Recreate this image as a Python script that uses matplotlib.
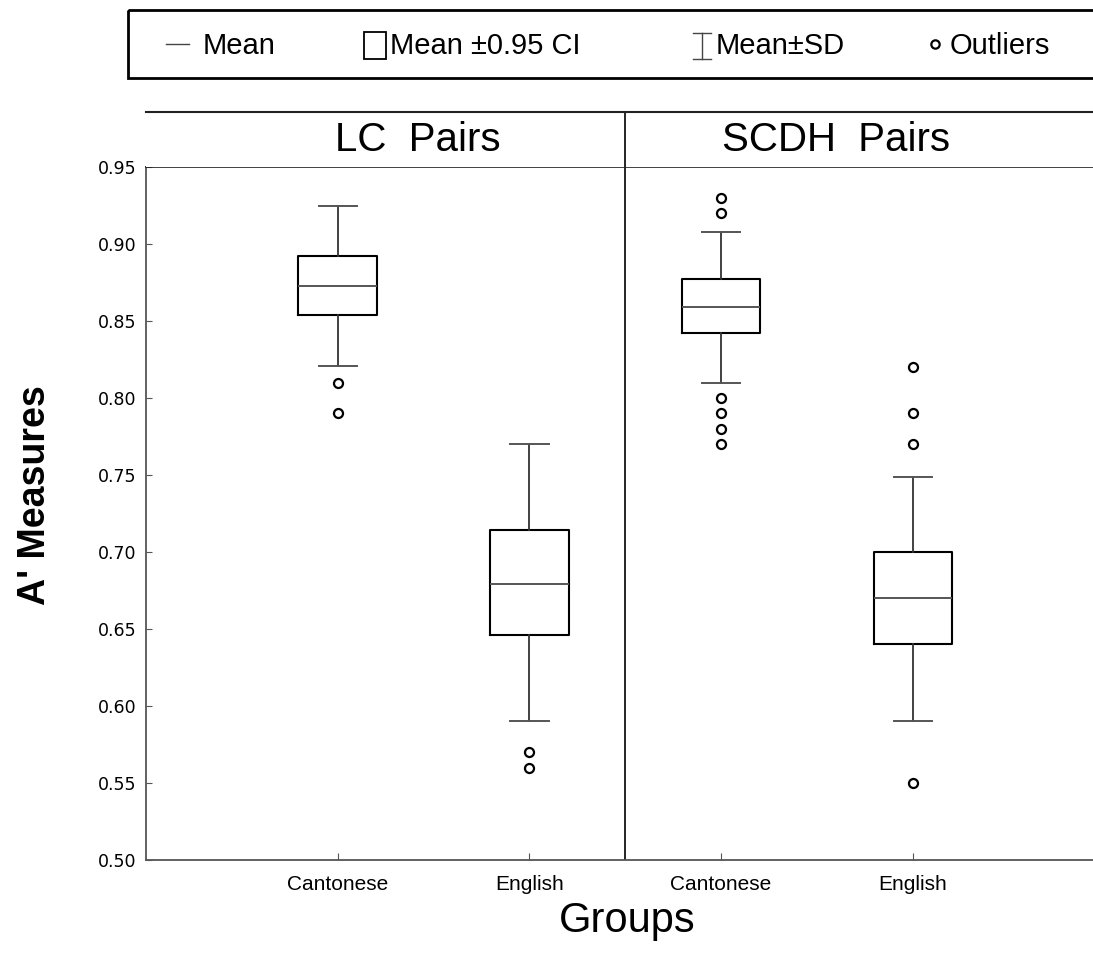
import matplotlib
matplotlib.use("Agg")
import matplotlib.pyplot as plt
from matplotlib.patches import Rectangle

# A' measures per group, two stimulus sets (LC pairs, SCDH pairs)
groups = ["Cantonese", "English", "Cantonese", "English"]
panels = ["LC  Pairs", "SCDH  Pairs"]
means = [0.873, 0.679, 0.859, 0.670]
ci_low = [0.854, 0.646, 0.842, 0.640]
ci_high = [0.892, 0.714, 0.877, 0.700]
sd_low = [0.821, 0.590, 0.810, 0.590]
sd_high = [0.925, 0.770, 0.908, 0.749]
outliers = [
    [0.81, 0.79],
    [0.57, 0.56],
    [0.93, 0.92, 0.80, 0.79, 0.78, 0.77],
    [0.82, 0.79, 0.77, 0.55],
]
yticks = [0.50, 0.55, 0.60, 0.65, 0.70, 0.75, 0.80, 0.85, 0.90, 0.95]

W, H = 1093, 955
fig = plt.figure(figsize=(W / 100, H / 100), dpi=100)

# pixel box of the plotting area
x0, x1, ytop, ybot = 146, 1093, 167, 860
ax = fig.add_axes([x0 / W, 1 - ybot / H, (x1 - x0) / W, (ybot - ytop) / H])

stats = []
for g, m, lo, hi, wl, wh, fl in zip(groups, means, ci_low, ci_high, sd_low, sd_high, outliers):
    stats.append(dict(label=g, med=m, q1=lo, q3=hi, whislo=wl, whishi=wh, fliers=fl))

ax.bxp(stats, positions=range(len(groups)), widths=0.41, capwidths=0.2,
       showfliers=True,
       boxprops=dict(color="black", lw=1.5),
       medianprops=dict(color="#555555", lw=1.4),
       whiskerprops=dict(color="#333333", lw=1.3),
       capprops=dict(color="#555555", lw=1.4),
       flierprops=dict(marker="o", mfc="white", mec="black", ms=6.5, mew=1.6))

ax.set_xlim(-1.0, 3.94)
ax.set_ylim(0.5, 0.95)
ax.set_yticks(yticks)
ax.set_yticklabels([f"{v:.2f}" for v in yticks], family="DejaVu Sans", fontsize=12.5)
ax.set_xticks(range(len(groups)))
ax.set_xticklabels(groups, family="Liberation Sans", fontsize=15)
ax.tick_params(axis="y", direction="in", length=4, pad=7, color="#555555")
ax.tick_params(axis="x", direction="in", length=5, pad=11, color="#555555")
ax.axvline(1.5, color="black", lw=1.2)
for s in ["left", "bottom"]:
    ax.spines[s].set_color("#555555")
    ax.spines[s].set_linewidth(1.3)
ax.spines["top"].set_color("#222222")
ax.spines["top"].set_linewidth(1.2)
ax.spines["right"].set_visible(False)

# header strip with panel names
st = fig.add_axes([x0 / W, 1 - ytop / H, (x1 - x0) / W, (ytop - 112) / H])
st.set_xlim(ax.get_xlim())
st.set_ylim(0, 1)
st.set_xticks([])
st.set_yticks([])
for s in ["left", "right", "bottom"]:
    st.spines[s].set_visible(False)
st.spines["top"].set_color("#222222")
st.spines["top"].set_linewidth(1.5)
st.axvline(1.5, color="black", lw=1.2)
for xp, name in zip([0.42, 2.6], panels):
    st.text(xp, 0.5, name, ha="center", va="center", family="Liberation Sans", fontsize=29)

# axis titles
fig.text(35 / W, 1 - 495 / H, "A' Measures", rotation=90, ha="center", va="center",
         family="Liberation Sans", fontweight="bold", fontsize=27)
fig.text(627 / W, 1 - 921 / H, "Groups", ha="center", va="center",
         family="Liberation Sans", fontsize=30)

# legend strip drawn in pixel space
lg = fig.add_axes([0, 0, 1, 1], zorder=-1)
lg.set_xlim(0, W)
lg.set_ylim(H, 0)
lg.axis("off")
lg.add_patch(Rectangle((128, 10), 1000, 68, fill=False, ec="black", lw=2))
ty = 46
lg.plot([166, 189], [44, 44], color="#444444", lw=1)
lg.text(203, ty, "Mean", va="center", family="Liberation Sans", fontsize=21)
lg.add_patch(Rectangle((364, 32), 22, 27, fill=False, ec="black", lw=1.3))
lg.text(390, ty, "Mean \u00b10.95 CI", va="center", family="Liberation Sans", fontsize=21)
lg.plot([702, 702], [33, 59], color="#444444", lw=1)
lg.plot([693, 711], [33, 33], color="#444444", lw=1)
lg.plot([693, 711], [59, 59], color="#444444", lw=1)
lg.text(716, ty, "Mean\u00b1SD", va="center", family="Liberation Sans", fontsize=21)
lg.plot([935], [44], marker="o", mfc="white", mec="black", ms=6, mew=1.6)
lg.text(950, ty, "Outliers", va="center", family="Liberation Sans", fontsize=21)

fig.savefig("out.png", dpi=100)
